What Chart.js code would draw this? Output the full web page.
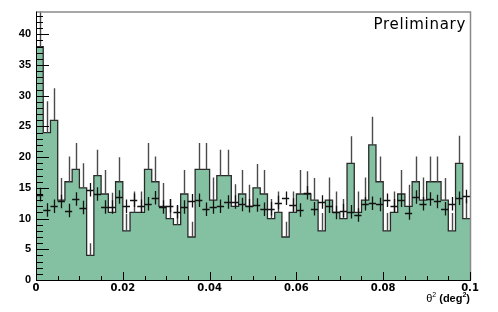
<!DOCTYPE html>
<html>
<head>
<meta charset="utf-8">
<script src="https://cdn.jsdelivr.net/npm/chart.js@4.4.1/dist/chart.umd.min.js"></script>
<style>
    body { margin: 0; background: #fff; }
    #wrap { width: 498px; height: 312px; }
</style>
</head>
<body>
<div id="wrap"><canvas id="theta2-chart" width="498" height="312"></canvas></div>
<script>
// theta^2 distribution, 60 bins between 0 and 0.1 deg^2
const xMax = 0.1;
const nBins = 60;

// ON counts (filled histogram)
const onCounts = [38, 24, 26, 13, 16, 18, 15, 4, 17, 14, 11, 16, 8, 11, 11, 18, 16, 12, 10, 9,
    14, 7, 18, 18, 13, 17, 17, 12, 14, 12, 15, 14, 10, 11, 7, 11, 14, 14, 13, 8,
    13, 11, 10, 19, 11, 13, 22, 16, 8, 11, 14, 12, 16, 13, 16, 16, 13, 8, 19, 10];

// upper error on the ON counts
const onErr = [6.5, 5.1, 5.2, 3.6, 4.1, 4.3, 4.0, 2.0, 4.2, 3.9, 3.2, 4.0, 2.8, 3.4, 3.4, 4.3, 4.1, 3.8, 3.2, 3.1,
    3.9, 2.5, 4.3, 4.3, 3.7, 4.2, 4.2, 3.6, 3.9, 3.5, 3.9, 3.9, 3.2, 3.4, 2.5, 3.4, 3.9, 3.7, 3.6, 2.9,
    3.7, 3.4, 3.2, 4.4, 3.4, 3.7, 4.6, 4.1, 2.9, 3.4, 3.9, 3.5, 4.1, 3.7, 4.1, 4.1, 3.6, 2.9, 4.5, 3.2];

// normalised OFF (background) points, drawn as crosses
const offCounts = [13.9, 11.4, 12.0, 12.8, 11.3, 13.2, 11.8, 14.7, 14.0, 11.9, 11.9, 13.5, 12.0, 13.0, 12.0, 12.4, 13.4, 11.9, 12.1, 11.1,
    11.9, 12.9, 13.0, 11.5, 11.9, 12.0, 12.7, 12.7, 12.3, 12.1, 12.2, 11.5, 11.6, 12.6, 13.3, 12.2, 11.4, 14.2, 11.6, 12.7,
    12.0, 11.0, 11.3, 11.1, 10.6, 12.4, 12.5, 12.3, 13.0, 12.1, 13.0, 10.9, 13.5, 12.4, 13.2, 12.8, 11.6, 12.4, 13.3, 13.6];
const offErr = 1.1;

const yMax = 43.7;
const xTickStep = 0.02;
const xMinorStep = 0.005;
const yTickStep = 5;
const yMinorStep = 1;

const binWidth = xMax / nBins;
const histPoints = onCounts.map((v, i) => ({x: i * binWidth, y: v}));
histPoints.push({x: xMax, y: onCounts[nBins - 1]});

const decorPlugin = {
    id: 'decor',
    afterDatasetsDraw(chart) {
        const {ctx, chartArea: a, scales: {x, y}} = chart;
        ctx.save();
        ctx.beginPath();
        ctx.rect(a.left, a.top, a.right - a.left, a.bottom - a.top);
        ctx.clip();

        // error bars of the ON histogram (upper half, lower half hidden by the fill)
        ctx.strokeStyle = '#4a4a4a';
        ctx.lineWidth = 1.4;
        onCounts.forEach((v, i) => {
            const px = Math.round(x.getPixelForValue((i + 0.5) * binWidth)) + 0.5;
            ctx.beginPath();
            ctx.moveTo(px, y.getPixelForValue(v));
            ctx.lineTo(px, y.getPixelForValue(v + onErr[i]));
            ctx.stroke();
        });

        // background crosses
        ctx.strokeStyle = '#111';
        ctx.lineWidth = 1.3;
        offCounts.forEach((v, i) => {
            const x0 = x.getPixelForValue(i * binWidth);
            const x1 = x.getPixelForValue((i + 1) * binWidth);
            const xc = Math.round((x0 + x1) / 2) + 0.5;
            const py = Math.round(y.getPixelForValue(v)) + 0.5;
            ctx.beginPath();
            ctx.moveTo(x0, py);
            ctx.lineTo(x1, py);
            ctx.moveTo(xc, y.getPixelForValue(v - offErr));
            ctx.lineTo(xc, y.getPixelForValue(v + offErr));
            ctx.stroke();
        });
        ctx.restore();

        ctx.save();
        // frame
        ctx.strokeStyle = '#8a8a8a';
        ctx.lineWidth = 1.5;
        ctx.beginPath();
        ctx.moveTo(a.left, a.top + 0.5);
        ctx.lineTo(a.right + 0.5, a.top + 0.5);
        ctx.lineTo(a.right + 0.5, a.bottom);
        ctx.stroke();

        // axes and ticks
        ctx.strokeStyle = '#000';
        ctx.lineWidth = 1;
        ctx.beginPath();
        ctx.moveTo(a.left + 0.5, a.top);
        ctx.lineTo(a.left + 0.5, a.bottom + 0.5);
        ctx.lineTo(a.right + 1, a.bottom + 0.5);
        for (let k = 0; k * yMinorStep <= yMax; k++) {
            const py = Math.round(y.getPixelForValue(k * yMinorStep)) + 0.5;
            const len = (k * yMinorStep) % yTickStep === 0 ? 13 : 7;
            ctx.moveTo(a.left, py);
            ctx.lineTo(a.left + len, py);
        }
        for (let k = 0; k * xMinorStep <= xMax + 1e-9; k++) {
            const px = Math.round(x.getPixelForValue(k * xMinorStep)) + 0.5;
            const len = k % Math.round(xTickStep / xMinorStep) === 0 ? 8 : 4;
            ctx.moveTo(px, a.bottom);
            ctx.lineTo(px, a.bottom - len);
        }
        ctx.stroke();

        // label in the corner
        ctx.fillStyle = '#000';
        ctx.font = '15px "DejaVu Sans"';
        ctx.letterSpacing = '0.7px';
        ctx.textAlign = 'right';
        ctx.textBaseline = 'alphabetic';
        ctx.fillText('Preliminary', a.right - 4, 29);
        ctx.letterSpacing = '0px';

        // x axis title: theta^2 (deg^2)
        const parts = [
            {t: '\u03b8', f: '11px "Liberation Sans"', dy: 0},
            {t: '2', f: '7px "Liberation Sans"', dy: -5},
            {t: ' (deg', f: 'bold 11px "Liberation Sans"', dy: 0},
            {t: '2', f: 'bold 7px "Liberation Sans"', dy: -5},
            {t: ')', f: 'bold 11px "Liberation Sans"', dy: 0}
        ];
        ctx.textAlign = 'left';
        let total = 0;
        parts.forEach(p => { ctx.font = p.f; total += ctx.measureText(p.t).width; });
        let cx = a.right - total;
        parts.forEach(p => {
            ctx.font = p.f;
            ctx.fillText(p.t, cx, 302 + p.dy);
            cx += ctx.measureText(p.t).width;
        });
        ctx.restore();
    }
};

new Chart(document.getElementById('theta2-chart'), {
    type: 'line',
    data: {
        datasets: [{
            data: histPoints,
            stepped: true,
            fill: 'origin',
            backgroundColor: 'rgb(132, 193, 162)',
            borderColor: '#2a2a2a',
            borderWidth: 1.3,
            pointRadius: 0,
            tension: 0
        }]
    },
    options: {
        responsive: false,
        devicePixelRatio: 1,
        animation: false,
        layout: {
            padding: {top: 10, right: 28, left: 0, bottom: 0}
        },
        plugins: {
            legend: {display: false},
            tooltip: {enabled: false}
        },
        scales: {
            x: {
                type: 'linear',
                min: 0,
                max: xMax,
                border: {display: false},
                grid: {display: false, drawTicks: false},
                ticks: {
                    stepSize: xTickStep,
                    padding: 2,
                    maxRotation: 0,
                    color: '#000',
                    font: {family: 'DejaVu Sans', size: 10, weight: 'bold'},
                    callback: (value) => String(+value.toFixed(2))
                },
                afterFit: (scale) => { scale.height = 32; }
            },
            y: {
                min: 0,
                max: yMax,
                border: {display: false},
                grid: {display: false, drawTicks: false},
                afterBuildTicks: (scale) => {
                    scale.ticks = scale.ticks.filter(t => t.value % yTickStep === 0);
                },
                ticks: {
                    stepSize: yTickStep,
                    padding: 5,
                    color: '#000',
                    font: {family: 'Liberation Sans', size: 11, weight: 'bold'}
                },
                afterFit: (scale) => { scale.width = 36; }
            }
        }
    },
    plugins: [decorPlugin]
});
</script>
</body>
</html>
